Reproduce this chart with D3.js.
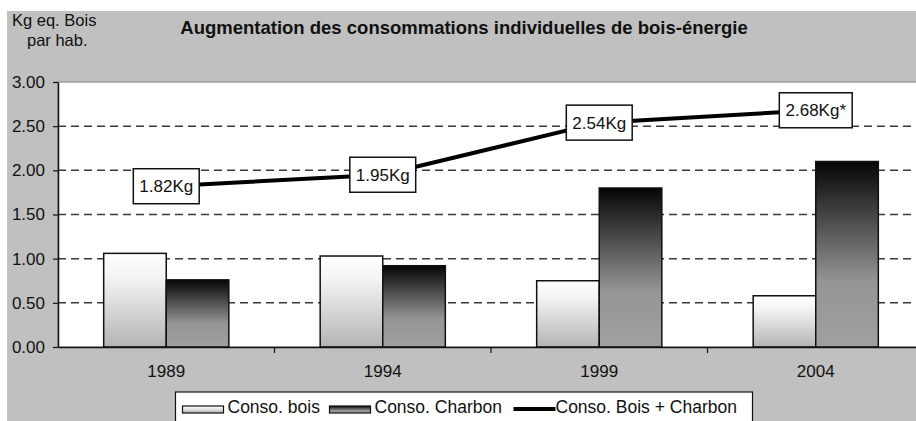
<!DOCTYPE html>
<html>
<head>
<meta charset="utf-8">
<script src="https://cdn.jsdelivr.net/npm/d3@7"></script>
<style>
  html, body { margin: 0; padding: 0; background: #fff; }
  svg { display: block; font-family: "Liberation Sans", Arial, sans-serif; }
</style>
</head>
<body>
<div id="chart"></div>
<script>
// data
const years = ["1989", "1994", "1999", "2004"];
const consoBois = [1.06, 1.03, 0.75, 0.58];
const consoCharbon = [0.76, 0.92, 1.80, 2.10];
const consoTotal = [1.82, 1.95, 2.54, 2.68];
const totalLabels = ["1.82Kg", "1.95Kg", "2.54Kg", "2.68Kg*"];
const yTicks = [0, 0.5, 1, 1.5, 2, 2.5, 3];
const seriesNames = ["Conso. bois", "Conso. Charbon", "Conso. Bois + Charbon"];

const W = 916, H = 421;
const margin = {top: 82, right: -8, bottom: 74, left: 58};
const width = W - margin.left - margin.right;
const height = H - margin.top - margin.bottom;

const svg = d3.select("#chart")
    .append("svg")
    .attr("width", W)
    .attr("height", H);

// gradients for the bars
const defs = svg.append("defs");
const gBois = defs.append("linearGradient").attr("id", "gBois")
    .attr("x1", 0).attr("y1", 0).attr("x2", 0).attr("y2", 1);
gBois.append("stop").attr("offset", "0%").attr("stop-color", "#ffffff");
gBois.append("stop").attr("offset", "25%").attr("stop-color", "#f4f4f4");
gBois.append("stop").attr("offset", "100%").attr("stop-color", "#b4b4b4");
const gCharbon = defs.append("linearGradient").attr("id", "gCharbon")
    .attr("x1", 0).attr("y1", 0).attr("x2", 0).attr("y2", 1);
gCharbon.append("stop").attr("offset", "0%").attr("stop-color", "#050505");
gCharbon.append("stop").attr("offset", "65%").attr("stop-color", "#959595");
gCharbon.append("stop").attr("offset", "100%").attr("stop-color", "#a0a0a0");

// grey chart background
svg.append("rect")
    .attr("x", 7).attr("y", 11)
    .attr("width", W - 7).attr("height", H - 11)
    .attr("fill", "#c0c0c0");

const g = svg.append("g")
    .attr("transform", `translate(${margin.left},${margin.top})`);

// plot area
g.append("rect")
    .attr("width", width).attr("height", height)
    .attr("fill", "#fff")
    .attr("stroke", "#808080")
    .attr("stroke-width", 1);

const x = d3.scaleBand()
    .domain(years)
    .range([0, width]);

const xs = d3.scaleBand()
    .domain([0, 1])
    .range([0, x.bandwidth()])
    .paddingInner(0)
    .paddingOuter(0.73);

const y = d3.scaleLinear()
    .domain([0, 3])
    .range([height, 0]);

// dashed gridlines
g.append("g")
    .selectAll("line")
    .data(yTicks.filter(d => d > 0 && d < 3))
    .enter()
    .append("line")
    .attr("x1", 0).attr("x2", width)
    .attr("y1", d => y(d)).attr("y2", d => y(d))
    .attr("stroke", "#3a3a3a")
    .attr("stroke-width", 1.5)
    .attr("stroke-dasharray", "8,5");

// bars
const groups = g.append("g")
    .selectAll("g")
    .data(years)
    .enter()
    .append("g")
    .attr("transform", d => `translate(${x(d)},0)`);

groups.append("rect")
    .attr("x", xs(0))
    .attr("y", (d, i) => y(consoBois[i]))
    .attr("width", xs.bandwidth())
    .attr("height", (d, i) => y(0) - y(consoBois[i]))
    .attr("fill", "url(#gBois)")
    .attr("stroke", "#111")
    .attr("stroke-width", 1.5);

groups.append("rect")
    .attr("x", xs(1))
    .attr("y", (d, i) => y(consoCharbon[i]))
    .attr("width", xs.bandwidth())
    .attr("height", (d, i) => y(0) - y(consoCharbon[i]))
    .attr("fill", "url(#gCharbon)")
    .attr("stroke", "#111")
    .attr("stroke-width", 1.5);

// y axis
const yAxis = g.append("g")
    .call(d3.axisLeft(y).tickValues(yTicks).tickFormat(d3.format(".2f"))
        .tickSize(5).tickPadding(8).tickSizeOuter(0));
yAxis.select(".domain").attr("stroke", "#111").attr("stroke-width", 1.5);
yAxis.selectAll(".tick line").attr("stroke", "#111").attr("stroke-width", 1.2);
yAxis.selectAll("text").attr("font-size", 17).attr("fill", "#111");

// x axis
const xAxis = g.append("g")
    .attr("transform", `translate(0,${height})`)
    .call(d3.axisBottom(x).tickSize(0).tickPadding(18).tickSizeOuter(0));
xAxis.select(".domain").attr("stroke", "#111").attr("stroke-width", 1.5);
xAxis.selectAll("text").attr("font-size", 17).attr("fill", "#111");
// tick marks between categories
xAxis.append("g")
    .selectAll("line")
    .data(years.slice(1))
    .enter()
    .append("line")
    .attr("x1", d => x(d)).attr("x2", d => x(d))
    .attr("y1", 0).attr("y2", 6)
    .attr("stroke", "#111")
    .attr("stroke-width", 1.2);

// total line
const cx = (d, i) => x(years[i]) + x.bandwidth() / 2;
g.append("path")
    .datum(consoTotal)
    .attr("fill", "none")
    .attr("stroke", "#000")
    .attr("stroke-width", 4)
    .attr("d", d3.line()
        .x(cx)
        .y(d => y(d)));

// value labels in boxes
const labels = g.append("g")
    .selectAll("g")
    .data(consoTotal)
    .enter()
    .append("g")
    .attr("transform", (d, i) => `translate(${cx(d, i)},${y(d)})`);

labels.append("rect")
    .attr("fill", "#fff")
    .attr("stroke", "#111")
    .attr("stroke-width", 1.5);
labels.append("text")
    .attr("text-anchor", "middle")
    .attr("y", 6)
    .attr("font-size", 17)
    .attr("fill", "#111")
    .text((d, i) => totalLabels[i]);
labels.each(function() {
    const t = d3.select(this).select("text").node().getBBox();
    d3.select(this).select("rect")
        .attr("x", -t.width / 2 - 6)
        .attr("y", -17.5)
        .attr("width", t.width + 12)
        .attr("height", 35);
});

// titles
svg.append("text")
    .attr("x", 464).attr("y", 34)
    .attr("text-anchor", "middle")
    .attr("font-size", 18.5)
    .attr("font-weight", "bold")
    .attr("fill", "#111")
    .text("Augmentation des consommations individuelles de bois-énergie");

svg.append("text")
    .attr("x", 12).attr("y", 26)
    .attr("font-size", 16.5)
    .attr("fill", "#111")
    .text("Kg eq. Bois");
svg.append("text")
    .attr("x", 27).attr("y", 46)
    .attr("font-size", 16.5)
    .attr("fill", "#111")
    .text("par hab.");

// legend
const legend = svg.append("g").attr("transform", "translate(175.5,392)");
legend.append("rect")
    .attr("width", 577).attr("height", 34)
    .attr("fill", "#fff")
    .attr("stroke", "#111")
    .attr("stroke-width", 1.2);

const legendX = [7, 154, 338];
const legendFills = ["url(#gBois)", "url(#gCharbon)", null];
const items = legend.selectAll(".item")
    .data(seriesNames)
    .enter()
    .append("g")
    .attr("class", "item")
    .attr("transform", (d, i) => `translate(${legendX[i]},0)`);

items.filter((d, i) => i < 2)
    .append("rect")
    .attr("y", 14).attr("width", 41).attr("height", 7)
    .attr("fill", (d, i) => legendFills[i])
    .attr("stroke", "#111")
    .attr("stroke-width", 1.2);
items.filter((d, i) => i === 2)
    .append("line")
    .attr("x1", 0).attr("x2", 42)
    .attr("y1", 17).attr("y2", 17)
    .attr("stroke", "#000")
    .attr("stroke-width", 4);
items.append("text")
    .attr("x", (d, i) => i === 2 ? 42 : 45)
    .attr("y", 21)
    .attr("font-size", 17.5)
    .attr("fill", "#111")
    .text(d => d);
</script>
</body>
</html>
